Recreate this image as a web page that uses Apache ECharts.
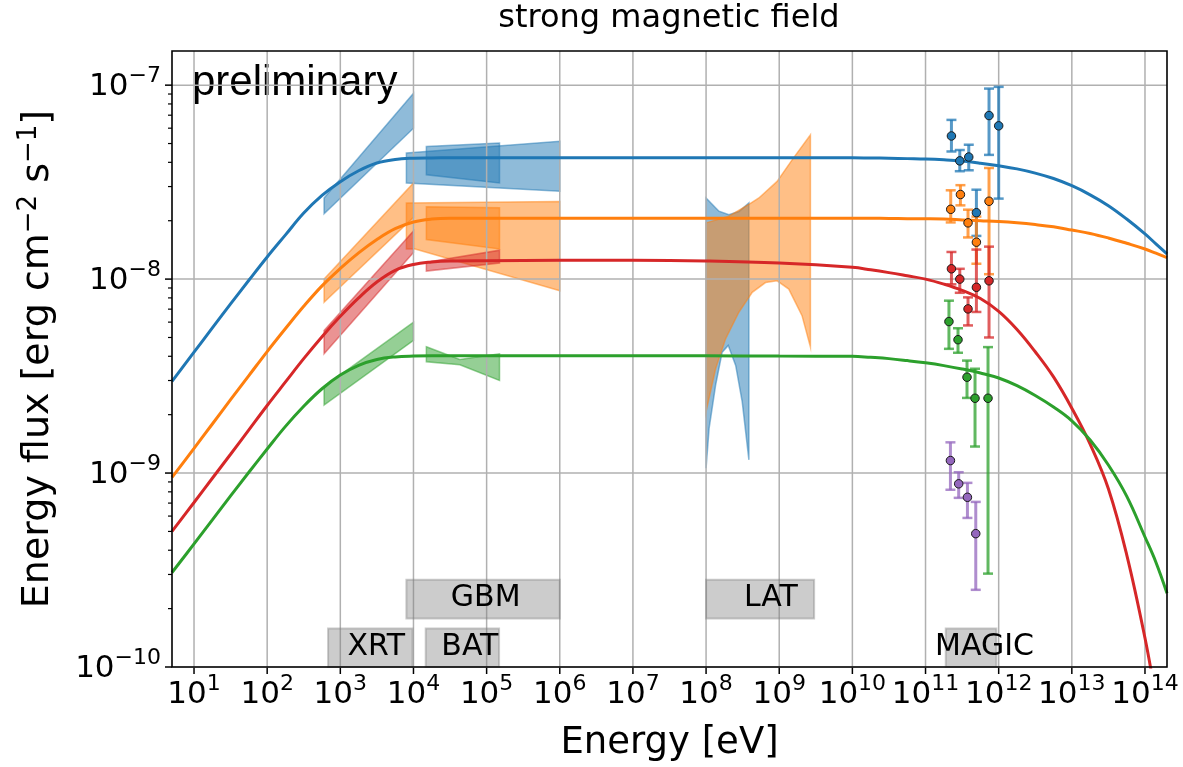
<!DOCTYPE html>
<html><head><meta charset="utf-8">
<script src="https://cdn.jsdelivr.net/npm/echarts@6/dist/echarts.min.js"></script>
<style>html,body{margin:0;padding:0;background:#fff}#c{width:1183px;height:767px}</style>
</head><body><div id="c"></div>
<script>
// ---------- data ----------
const X_MIN = 5, X_MAX = 2e14, Y_MIN = 1e-10, Y_MAX = 1.5e-7;

const xTickValues = [1e1,1e2,1e3,1e4,1e5,1e6,1e7,1e8,1e9,1e10,1e11,1e12,1e13,1e14];
const xTickLabels = ['1','2','3','4','5','6','7','8','9','10','11','12','13','14'];
const yTickValues = [1e-10,1e-9,1e-8,1e-7];
const yTickLabels = ['\u221210','\u22129','\u22128','\u22127'];
const yMinorValues = [2e-10,3e-10,4e-10,5e-10,6e-10,7e-10,8e-10,9e-10,
                      2e-9,3e-9,4e-9,5e-9,6e-9,7e-9,8e-9,9e-9,
                      2e-8,3e-8,4e-8,5e-8,6e-8,7e-8,8e-8,9e-8];

// model curves (energy in eV, flux in erg cm^-2 s^-1)
const curveE = [5,10,17.8,31.6,56.2,100,178,316,562,1000,1780,3160,5620,1e4,1.78e4,3.16e4,
                1e5,1e6,1e7,1e8,1e9,
                1e10,1.78e10,3.16e10,5.62e10,1e11,1.78e11,3.16e11,5.62e11,1e12,1.78e12,3.16e12,5.62e12,
                1e13,1.78e13,3.16e13,5.62e13,1e14,1.41e14,2e14];
const blueF = [2.97e-9,4.2e-9,5.6e-9,7.45e-9,9.86e-9,1.3e-8,1.69e-8,2.19e-8,2.7e-8,3.18e-8,3.62e-8,3.97e-8,4.14e-8,4.2e-8,4.215e-8,4.22e-8,
               4.22e-8,4.22e-8,4.22e-8,4.22e-8,4.22e-8,
               4.22e-8,4.21e-8,4.2e-8,4.18e-8,4.16e-8,4.12e-8,4.06e-8,3.96e-8,3.84e-8,3.7e-8,3.52e-8,3.3e-8,
               3.03e-8,2.72e-8,2.39e-8,2.04e-8,1.71e-8,1.52e-8,1.35e-8];
const orangeF = [9.5e-10,1.34e-9,1.79e-9,2.39e-9,3.18e-9,4.23e-9,5.56e-9,7.24e-9,9.23e-9,1.135e-8,1.365e-8,1.6e-8,1.82e-8,1.97e-8,2.04e-8,2.06e-8,
                 2.06e-8,2.06e-8,2.06e-8,2.06e-8,2.06e-8,
                 2.06e-8,2.058e-8,2.056e-8,2.05e-8,2.047e-8,2.04e-8,2.02e-8,2.0e-8,1.98e-8,1.95e-8,1.91e-8,1.86e-8,
                 1.79e-8,1.72e-8,1.63e-8,1.53e-8,1.43e-8,1.36e-8,1.29e-8];
const redF = [5.0e-10,7.05e-10,9.4e-10,1.25e-9,1.67e-9,2.23e-9,2.95e-9,3.89e-9,5.05e-9,6.43e-9,8.0e-9,9.66e-9,1.11e-8,1.19e-8,1.225e-8,1.24e-8,
              1.245e-8,1.25e-8,1.25e-8,1.24e-8,1.21e-8,
              1.15e-8,1.117e-8,1.08e-8,1.04e-8,1.0e-8,9.42e-9,8.75e-9,7.94e-9,6.82e-9,5.5e-9,4.22e-9,3.13e-9,
              2.16e-9,1.41e-9,8.3e-10,3.8e-10,1.41e-10,6.9e-11,3.2e-11];
const greenF = [3.07e-10,4.31e-10,5.73e-10,7.62e-10,1.01e-9,1.33e-9,1.74e-9,2.21e-9,2.72e-9,3.2e-9,3.59e-9,3.85e-9,3.97e-9,4.01e-9,4.02e-9,4.02e-9,
                4.02e-9,4.02e-9,4.02e-9,4.02e-9,4.01e-9,
                4.0e-9,3.95e-9,3.89e-9,3.8e-9,3.7e-9,3.58e-9,3.44e-9,3.28e-9,3.09e-9,2.82e-9,2.51e-9,2.19e-9,
                1.86e-9,1.48e-9,1.1e-9,7.6e-10,4.68e-10,3.47e-10,2.4e-10];

// instrument butterflies: [energy, flux] vertices
const blueXRT   = [[600,2.62e-8],[1e4,9.07e-8],[1e4,6.0e-8],[600,2.17e-8]];
const orangeXRT = [[600,1.0e-8],[1e4,3.13e-8],[1e4,2.08e-8],[600,7.6e-9]];
const redXRT    = [[600,5.43e-9],[1e4,1.77e-8],[1e4,1.37e-8],[600,4.12e-9]];
const greenXRT  = [[600,2.79e-9],[1e4,6.0e-9],[1e4,4.83e-9],[600,2.24e-9]];
const blueGBM   = [[8e3,4.47e-8],[1e6,5.14e-8],[1e6,2.84e-8],[8e3,3.13e-8]];
const orangeGBM = [[8e3,2.47e-8],[1e6,2.51e-8],[1e6,8.7e-9],[1.05e4,1.43e-8],[8e3,1.43e-8]];
const blueBAT   = [[1.5e4,4.83e-8],[1.5e5,5.03e-8],[1.5e5,3.13e-8],[1.5e4,3.45e-8]];
const orangeBAT = [[1.5e4,2.36e-8],[1.5e5,2.33e-8],[1.5e5,1.43e-8],[1.5e4,1.6e-8]];
const redBAT    = [[1.5e4,1.22e-8],[1.5e5,1.41e-8],[1.5e5,1.21e-8],[1.5e4,1.1e-8]];
const greenBAT  = [[1.5e4,4.48e-9],[4.3e4,3.85e-9],[1.5e5,4.12e-9],[1.5e5,3.0e-9],[4.3e4,3.62e-9],[1.5e4,3.75e-9]];
const blueLAT   = [[1e8,2.62e-8],[1.5e8,2.24e-8],[2.05e8,2.15e-8],[2.82e8,2.23e-8],[3.85e8,2.47e-8],
                   [3.85e8,1.17e-9],[3.12e8,2.33e-9],[2.54e8,3.59e-9],[2.01e8,4.55e-9],[1.66e8,4.2e-9],[1.35e8,2.84e-9],[1.1e8,1.7e-9],[1e8,1.06e-9]];
const orangeLAT = [[1e8,1.95e-8],[2.05e8,2.11e-8],[3.85e8,2.43e-8],[5.27e8,2.62e-8],[9.35e8,3.19e-8],[1.5e9,4.12e-8],[2.67e9,5.54e-8],
                   [2.67e9,4.46e-9],[2.05e9,6.48e-9],[1.35e9,8.88e-9],[9.35e8,9.8e-9],[6.5e8,9.6e-9],[4.28e8,8.55e-9],[2.81e8,6.75e-9],[1.85e8,4.92e-9],[1.35e8,3.45e-9],[1e8,2.07e-9]];

// MAGIC points
const blueMagicE  = [2.26e11,2.94e11,3.9e11,4.96e11,7.38e11,1.0e12];
const blueMagicF  = [5.47e-8,4.07e-8,4.26e-8,2.2e-8,6.97e-8,6.17e-8];
const blueMagicLo = [4.55e-8,3.6e-8,3.64e-8,1.67e-8,4.37e-8,2.6e-8];
const blueMagicHi = [6.62e-8,4.63e-8,4.93e-8,2.89e-8,9.6e-8,9.8e-8];
const orangeMagicE  = [2.21e11,3.0e11,3.81e11,4.96e11,7.38e11];
const orangeMagicF  = [2.29e-8,2.73e-8,1.95e-8,1.55e-8,2.52e-8];
const orangeMagicLo = [1.96e-8,2.4e-8,1.64e-8,1.2e-8,1.06e-8];
const orangeMagicHi = [2.87e-8,3.05e-8,2.28e-8,2.1e-8,3.74e-8];
const redMagicE  = [2.26e11,2.94e11,3.81e11,4.96e11,7.38e11];
const redMagicF  = [1.13e-8,1.0e-8,7.02e-9,9.07e-9,9.8e-9];
const redMagicLo = [9.4e-9,8.5e-9,5.77e-9,6.77e-9,5.0e-9];
const redMagicHi = [1.38e-8,1.13e-8,8.05e-9,1.42e-8,1.47e-8];
const greenMagicE  = [2.09e11,2.78e11,3.69e11,4.75e11,7.15e11];
const greenMagicF  = [6.04e-9,4.87e-9,3.12e-9,2.43e-9,2.43e-9];
const greenMagicLo = [4.37e-9,4.17e-9,2.44e-9,1.37e-9,3.03e-10];
const greenMagicHi = [7.74e-9,5.58e-9,3.8e-9,3.45e-9,4.46e-9];
const purpleMagicE  = [2.19e11,2.84e11,3.74e11,4.86e11];
const purpleMagicF  = [1.16e-9,8.8e-10,7.5e-10,4.87e-10];
const purpleMagicLo = [8.2e-10,7.45e-10,5.87e-10,2.5e-10];
const purpleMagicHi = [1.44e-9,1.01e-9,8.9e-10,7.1e-10];

// instrument range boxes
const instNames  = ['GBM','LAT','XRT','BAT','MAGIC'];
const instEmin   = [8e3, 1e8, 680, 1.47e4, 1.89e11];
const instEmax   = [1e6, 3e9, 9.7e3, 1.48e5, 9.3e11];
const instFmin   = [1.78e-10, 1.78e-10, 1e-10, 1e-10, 1e-10];
const instFmax   = [2.82e-10, 2.82e-10, 1.58e-10, 1.58e-10, 1.58e-10];
const instLabelE = [9.7e4, 7.7e8, 3.1e3, 5.9e4, 6.4e11];
const instLabelF = [2.26e-10, 2.26e-10, 1.27e-10, 1.27e-10, 1.27e-10];

// ---------- styling ----------
const FONT = 'DejaVu Sans';
const C = {blue:'#1f77b4', orange:'#ff7f0e', red:'#d62728', green:'#2ca02c', purple:'#9467bd'};
function rgba(hex, a){const n=parseInt(hex.slice(1),16);return `rgba(${n>>16&255},${n>>8&255},${n&255},${a})`;}

function polySeries(polys, color){
  return {type:'custom', z:1, silent:true, clip:true,
    data: polys.map((p,i)=>[p[0][0], p[0][1], i]),
    renderItem(params, api){
      const pts = polys[api.value(2)].map(v=>api.coord(v));
      return {type:'polygon', shape:{points:pts},
        style:{fill:rgba(color,0.5), stroke:rgba(color,0.5), lineWidth:1.5}};
    }};
}
function curveSeries(F, color){
  return {type:'line', z:3, silent:true, showSymbol:false, smooth:0.4, clip:true,
    data: curveE.map((e,i)=>[e, F[i]]),
    lineStyle:{color, width:3}, itemStyle:{color}};
}
function errSeries(E, lo, hi, color){
  return {type:'custom', z:3, silent:true,
    data: E.map((e,i)=>[e, lo[i], hi[i]]),
    renderItem(params, api){
      const t = api.coord([api.value(0), api.value(2)]);
      const b = api.coord([api.value(0), api.value(1)]);
      const c = rgba(color,0.75);
      return {type:'group', children:[
        {type:'line', shape:{x1:t[0],y1:t[1],x2:b[0],y2:b[1]}, style:{stroke:c, lineWidth:3}},
        {type:'line', shape:{x1:t[0]-5,y1:t[1],x2:t[0]+5,y2:t[1]}, style:{stroke:c, lineWidth:2.5}},
        {type:'line', shape:{x1:b[0]-5,y1:b[1],x2:b[0]+5,y2:b[1]}, style:{stroke:c, lineWidth:2.5}}
      ]};
    }};
}
function pointSeries(E, F, color){
  return {type:'scatter', z:4, silent:true, symbol:'circle', symbolSize:8.5,
    data: E.map((e,i)=>[e, F[i]]),
    itemStyle:{color, borderColor:'#1a1a1a', borderWidth:1, opacity:1}};
}
const richTick = {
  b:{fontSize:31, fontFamily:FONT, lineHeight:38, color:'#000'},
  s:{fontSize:22, fontFamily:FONT, color:'#000', padding:[0,0,22,0]}
};

const series = [];
series.push(polySeries([blueXRT, blueGBM, blueBAT, blueLAT], C.blue));
series.push(polySeries([orangeXRT, orangeGBM, orangeBAT, orangeLAT], C.orange));
series.push(polySeries([redXRT, redBAT], C.red));
series.push(polySeries([greenXRT, greenBAT], C.green));

// grid lines, ticks, tick labels
series.push({type:'custom', z:2, silent:true, clip:false,
  data: xTickValues.map((v,i)=>[v, Y_MIN, i]),
  renderItem(params, api){
    const i = api.value(2), v = xTickValues[i];
    const b = api.coord([v, Y_MIN]), t = api.coord([v, Y_MAX]);
    return {type:'group', children:[
      {type:'line', shape:{x1:b[0],y1:b[1],x2:t[0],y2:t[1]}, style:{stroke:'#b0b0b0', lineWidth:1.5}},
      {type:'line', shape:{x1:b[0],y1:b[1],x2:b[0],y2:b[1]+7}, style:{stroke:'#000', lineWidth:1.5}},
      {type:'text', x:b[0], y:b[1]+6, style:{text:'{b|10}{s|'+xTickLabels[i]+'}', align:'center', verticalAlign:'top', fill:'#000', rich:richTick}}
    ]};
  }});
series.push({type:'custom', z:2, silent:true, clip:false,
  data: yTickValues.map((v,i)=>[X_MIN, v, i]),
  renderItem(params, api){
    const i = api.value(2), v = yTickValues[i];
    const l = api.coord([X_MIN, v]), r = api.coord([X_MAX, v]);
    return {type:'group', children:[
      {type:'line', shape:{x1:l[0],y1:l[1],x2:r[0],y2:r[1]}, style:{stroke:'#b0b0b0', lineWidth:1.5}},
      {type:'line', shape:{x1:l[0]-7,y1:l[1],x2:l[0],y2:l[1]}, style:{stroke:'#000', lineWidth:1.5}},
      {type:'text', x:l[0]-11, y:l[1]+2, style:{text:'{b|10}{s|'+yTickLabels[i]+'}', align:'right', verticalAlign:'middle', fill:'#000', rich:richTick}}
    ]};
  }});
series.push({type:'custom', z:2, silent:true, clip:false,
  data: yMinorValues.map(v=>[X_MIN, v]),
  renderItem(params, api){
    const l = api.coord([X_MIN, api.value(1)]);
    return {type:'line', shape:{x1:l[0]-4,y1:l[1],x2:l[0],y2:l[1]}, style:{stroke:'#000', lineWidth:1.2}};
  }});

series.push(curveSeries(blueF, C.blue));
series.push(curveSeries(orangeF, C.orange));
series.push(curveSeries(redF, C.red));
series.push(curveSeries(greenF, C.green));

series.push(errSeries(blueMagicE, blueMagicLo, blueMagicHi, C.blue));
series.push(errSeries(orangeMagicE, orangeMagicLo, orangeMagicHi, C.orange));
series.push(errSeries(redMagicE, redMagicLo, redMagicHi, C.red));
series.push(errSeries(greenMagicE, greenMagicLo, greenMagicHi, C.green));
series.push(errSeries(purpleMagicE, purpleMagicLo, purpleMagicHi, C.purple));
series.push(pointSeries(blueMagicE, blueMagicF, C.blue));
series.push(pointSeries(orangeMagicE, orangeMagicF, C.orange));
series.push(pointSeries(redMagicE, redMagicF, C.red));
series.push(pointSeries(greenMagicE, greenMagicF, C.green));
series.push(pointSeries(purpleMagicE, purpleMagicF, C.purple));

// instrument boxes + labels
series.push({type:'custom', z:5, silent:true, clip:false,
  data: instNames.map((n,i)=>[instEmin[i], instFmin[i], i]),
  renderItem(params, api){
    const i = api.value(2);
    const p1 = api.coord([instEmin[i], instFmax[i]]), p2 = api.coord([instEmax[i], instFmin[i]]);
    const lp = api.coord([instLabelE[i], instLabelF[i]]);
    return {type:'group', children:[
      {type:'rect', shape:{x:p1[0], y:p1[1], width:p2[0]-p1[0], height:p2[1]-p1[1]},
        style:{fill:'rgba(128,128,128,0.4)', stroke:'rgba(128,128,128,0.4)', lineWidth:2}},
      {type:'text', x:lp[0], y:lp[1], style:{text:instNames[i], align:'center', verticalAlign:'middle', fill:'#000', font:'30px "DejaVu Sans"'}}
    ]};
  }});
// frame
series.push({type:'custom', z:6, silent:true, clip:false,
  data:[[X_MIN, Y_MIN]],
  renderItem(params, api){
    const a = api.coord([X_MIN, Y_MAX]), b = api.coord([X_MAX, Y_MIN]);
    return {type:'rect', shape:{x:a[0], y:a[1], width:b[0]-a[0], height:b[1]-a[1]}, style:{fill:'none', stroke:'#000', lineWidth:1.6}};
  }});

const chart = echarts.init(document.getElementById('c'), null, {renderer:'canvas'});
chart.setOption({
  animation:false,
  backgroundColor:'#fff',
  grid:{left:172, right:16, top:51, bottom:96, containLabel:false},
  xAxis:{type:'log', logBase:10, min:X_MIN, max:X_MAX,
    axisLine:{show:false}, axisTick:{show:false}, axisLabel:{show:false}, splitLine:{show:false}, minorTick:{show:false},
    name:'Energy [eV]', nameLocation:'middle', nameGap:58,
    nameTextStyle:{fontFamily:FONT, fontSize:37, color:'#000'}},
  yAxis:{type:'log', logBase:10, min:Y_MIN, max:Y_MAX,
    axisLine:{show:false}, axisTick:{show:false}, axisLabel:{show:false}, splitLine:{show:false}, minorTick:{show:false},
    name:'Energy flux [erg cm{s|\u22122} s{s|\u22121}]', nameLocation:'middle', nameGap:112,
    nameTextStyle:{fontFamily:FONT, fontSize:38, color:'#000',
      rich:{s:{fontFamily:FONT, fontSize:26, color:'#000', padding:[0,0,18,0]}}}},
  graphic:[
    {type:'text', x:669, y:3, silent:true,
      style:{text:'strong magnetic field', align:'center', verticalAlign:'top', font:'32px "DejaVu Sans"', fill:'#000'}},
    {type:'text', left:192, top:62, silent:true,
      style:{text:'preliminary', font:'42px "Liberation Sans"', fill:'#000'}}
  ],
  series
});
</script></body></html>
